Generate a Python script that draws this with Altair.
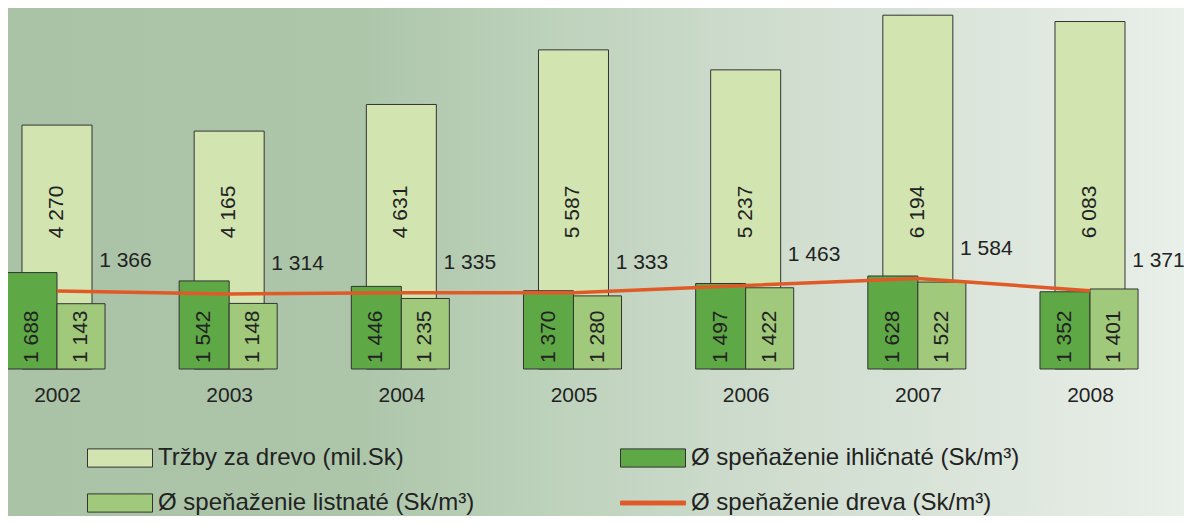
import altair as alt
import pandas as pd

years = [2002, 2003, 2004, 2005, 2006, 2007, 2008]
trzby = [4270, 4165, 4631, 5587, 5237, 6194, 6083]
ihlicnate = [1688, 1542, 1446, 1370, 1497, 1628, 1352]
listnate = [1143, 1148, 1235, 1280, 1422, 1522, 1401]
dreva = [1366, 1314, 1335, 1333, 1463, 1584, 1371]

# legend entries, listed column by column (left column, then right column)
legend_labels = [
    "Tržby za drevo (mil.Sk)",
    "Ø speňaženie listnaté (Sk/m³)",
    "Ø speňaženie ihličnaté (Sk/m³)",
    "Ø speňaženie dreva (Sk/m³)",
]

C_TALL = "#d2e5b1"
C_DARK = "#5ea846"
C_LIGHT = "#a0c97b"
C_LINE = "#e05a28"
C_EDGE = "#333333"
C_TEXT = "#222222"
FONT = "Liberation Sans"
FS = 21
LEG_FS = 24

df = pd.DataFrame({"year": years, "trzby": trzby, "ihl": ihlicnate,
                   "lis": listnate, "dreva": dreva})

W, H = 1176, 361
TOTAL_H = 508
xscale = alt.Scale(domain=[2001.7154, 2008.546], nice=False, zero=False)
yscale = alt.Scale(domain=[0, 6320], nice=False)
xaxis = alt.Axis(values=years, format="d", labelFontSize=FS, labelFont=FONT,
                 labelColor=C_TEXT, domain=False, ticks=False, grid=False,
                 labelPadding=15, title=None, zindex=2)

base = alt.Chart(df)
fmt = "replace(format(datum.v, ','), ',', ' ')"

bg = alt.Chart(pd.DataFrame({"a": [0]})).mark_rect(
    fill=alt.LinearGradient(
        gradient="linear", x1=0, y1=0, x2=1, y2=0,
        stops=[
            alt.GradientStop(color="#aac3a6", offset=0.0),
            alt.GradientStop(color="#adc6aa", offset=0.3),
            alt.GradientStop(color="#bcd1ba", offset=0.45),
            alt.GradientStop(color="#cbdaca", offset=0.6),
            alt.GradientStop(color="#dae4d9", offset=0.8),
            alt.GradientStop(color="#e9efe9", offset=1.0),
        ],
    )
).encode(x=alt.value(0), x2=alt.value(W), y=alt.value(0), y2=alt.value(TOTAL_H))


def bars(field, left, right, color):
    return base.transform_calculate(
        x0=f"datum.year + ({left})", x1=f"datum.year + ({right})"
    ).mark_rect(fill=color, stroke=C_EDGE, strokeWidth=1).encode(
        x=alt.X("x0:Q", scale=xscale, axis=xaxis),
        x2="x1:Q",
        y=alt.Y(f"{field}:Q", scale=yscale, axis=None),
        y2=alt.datum(0),
    )


tall = bars("trzby", -0.2033, 0.2033, C_TALL)
dark = bars("ihl", -0.2905, 0.0, C_DARK)
light = bars("lis", 0.0, 0.279, C_LIGHT)

line = base.mark_line(color=C_LINE, strokeWidth=3.5).encode(
    x=alt.X("year:Q", scale=xscale, axis=xaxis),
    y=alt.Y("dreva:Q", scale=yscale, axis=None),
)


def vlabels(field, offset, ypos, align, dx):
    return base.transform_calculate(
        v=f"datum.{field}", lab=fmt, xc=f"datum.year + ({offset})"
    ).mark_text(angle=270, align=align, baseline="middle", fontSize=FS,
                font=FONT, color=C_TEXT, dx=dx).encode(
        x=alt.X("xc:Q", scale=xscale, axis=xaxis),
        y=alt.Y(datum=ypos, scale=yscale, axis=None),
        text="lab:N",
    )


tall_txt = vlabels("trzby", 0.0, 2750, "center", 0)
dark_txt = vlabels("ihl", -0.145, 0, "left", 6)
light_txt = vlabels("lis", 0.1395, 0, "left", 6)

line_txt = base.transform_calculate(
    v="datum.dreva", lab=fmt, xc="datum.year + 0.245"
).mark_text(align="left", baseline="middle", fontSize=FS, font=FONT,
            color=C_TEXT, dy=-30).encode(
    x=alt.X("xc:Q", scale=xscale, axis=xaxis),
    y=alt.Y("dreva:Q", scale=yscale, axis=None),
    text="lab:N",
)

rect_path = "M-1,-0.28H1V0.28H-1Z"
line_path = "M-1,-0.06H1V0.06H-1Z"
leg = alt.Legend(title=None, orient="none", legendX=79, legendY=417,
                 columns=2, symbolSize=4225, symbolStrokeWidth=1,
                 symbolOpacity=1, labelFontSize=LEG_FS, labelFont=FONT,
                 labelColor=C_TEXT, rowPadding=-2, columnPadding=143,
                 labelOffset=5, symbolOffset=0, labelLimit=600)
legend_layer = alt.Chart(pd.DataFrame({"s": legend_labels})).transform_filter(
    "false"
).mark_point(filled=True, opacity=1).encode(
    fill=alt.Fill("s:N", scale=alt.Scale(domain=legend_labels,
                  range=[C_TALL, C_LIGHT, C_DARK, C_LINE]), legend=leg),
    stroke=alt.Stroke("s:N", scale=alt.Scale(domain=legend_labels,
                      range=[C_EDGE, C_EDGE, C_EDGE, C_LINE]), legend=leg),
    shape=alt.Shape("s:N", scale=alt.Scale(domain=legend_labels,
                    range=[rect_path, rect_path, rect_path, line_path]), legend=leg),
)

chart = alt.layer(
    bg, tall, tall_txt, dark, light, line, dark_txt, light_txt, line_txt, legend_layer
).properties(
    width=W, height=H,
    autosize=alt.AutoSizeParams(type="none"),
    padding={"left": 0, "top": 0, "right": 0, "bottom": TOTAL_H - H},
).configure_view(strokeWidth=0).configure(font=FONT, background="#ffffff")

chart.save("out.html", embed_options={"renderer": "svg", "actions": False})
